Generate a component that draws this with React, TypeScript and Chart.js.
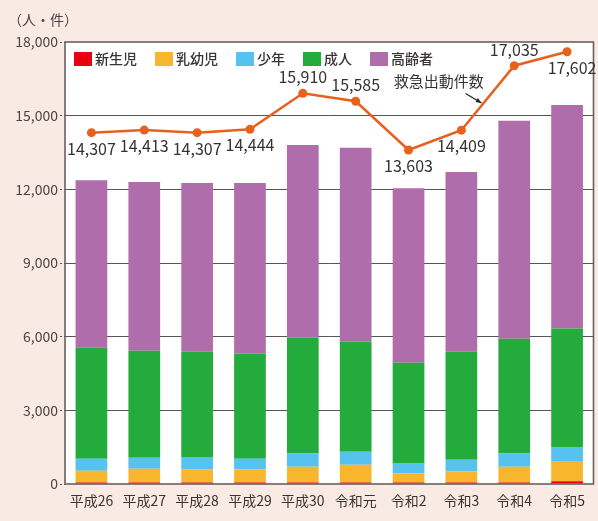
import React, { useEffect, useRef } from "react";
import { Chart, registerables } from "chart.js";

Chart.register(...registerables);

const categories = ["平成26", "平成27", "平成28", "平成29", "平成30", "令和元", "令和2", "令和3", "令和4", "令和5"];
const newborn = [60, 60, 60, 60, 60, 60, 60, 60, 60, 110];
const infants = [480, 560, 530, 530, 640, 720, 370, 450, 640, 800];
const youth = [490, 450, 510, 440, 540, 530, 430, 480, 540, 600];
const adults = [4520, 4360, 4290, 4280, 4720, 4490, 4080, 4400, 4680, 4820];
const elderly = [6820, 6870, 6870, 6950, 7850, 7890, 7100, 7320, 8870, 9100];
const dispatches = [14307, 14413, 14307, 14444, 15910, 15585, 13603, 14409, 17035, 17602];
const yTicks = [0, 3000, 6000, 9000, 12000, 15000, 18000];
const labelSide = [1, 1, 1, 1, -1, -1, 1, 1, -1, 1];

const seriesNames = ["新生児", "乳幼児", "少年", "成人", "高齢者"];
const seriesColors = ["#e60012", "#f8b62d", "#55c2f0", "#23ab3b", "#b06dab"];
const lineName = "救急出動件数";
const unitLabel = "（人・件）";

const FONT = '"Noto Sans CJK JP", "Noto Sans", sans-serif';
const BG = "#f9ebe4";

export default function App() {
  const ref = useRef<HTMLCanvasElement | null>(null);

  useEffect(() => {
    document.body.style.margin = "0";
    const canvas = ref.current;
    if (!canvas) return;

    const decor = {
      id: "decor",
      beforeDraw(chart: any) {
        const { ctx, chartArea: a, width, height } = chart;
        ctx.save();
        ctx.fillStyle = BG;
        ctx.fillRect(0, 0, width, height);
        ctx.fillStyle = "#ffffff";
        ctx.fillRect(a.left, a.top, a.right - a.left, a.bottom - a.top);
        ctx.restore();
      },
      afterDraw(chart: any) {
        const { ctx, chartArea: a, scales } = chart;
        ctx.save();
        // frame
        ctx.strokeStyle = "#6b5f5f";
        ctx.lineWidth = 1.6;
        ctx.strokeRect(a.left, a.top, a.right - a.left, a.bottom - a.top);

        // unit label
        ctx.fillStyle = "#4d4343";
        ctx.font = `14px ${FONT}`;
        ctx.textAlign = "left";
        ctx.textBaseline = "middle";
        ctx.fillText(unitLabel, 8, 20);

        // legend
        let x = a.left + 9;
        const ly = a.top + 9;
        ctx.font = `500 14px ${FONT}`;
        seriesNames.forEach((name, i) => {
          ctx.fillStyle = seriesColors[i];
          ctx.fillRect(x, ly + 1, 18, 14);
          ctx.fillStyle = "#3a3333";
          ctx.textBaseline = "middle";
          ctx.fillText(name, x + 21, ly + 8);
          x += 21 + ctx.measureText(name).width + 18;
        });

        // line labels
        const meta = chart.getDatasetMeta(5);
        ctx.font = `16px ${FONT}`;
        ctx.fillStyle = "#333";
        ctx.textAlign = "center";
        meta.data.forEach((pt: any, i: number) => {
          const txt = dispatches[i].toLocaleString("en-US");
          const dy = labelSide[i] * 16;
          ctx.fillText(txt, pt.x + (i === 9 ? 5 : 0), pt.y + dy);
        });

        // annotation
        const xs = scales.x;
        const ys = scales.y;
        ctx.font = `15px ${FONT}`;
        ctx.fillStyle = "#333";
        ctx.textAlign = "center";
        ctx.fillText(lineName, xs.getPixelForValue(6.57), ys.getPixelForValue(16400));
        const x1 = xs.getPixelForValue(7.08);
        const y1 = ys.getPixelForValue(15900);
        const x2 = xs.getPixelForValue(7.38);
        const y2 = ys.getPixelForValue(15520);
        ctx.strokeStyle = "#222";
        ctx.lineWidth = 1.2;
        ctx.beginPath();
        ctx.moveTo(x1, y1);
        ctx.lineTo(x2, y2);
        ctx.stroke();
        const ang = Math.atan2(y2 - y1, x2 - x1);
        ctx.fillStyle = "#222";
        ctx.beginPath();
        ctx.moveTo(x2, y2);
        ctx.lineTo(x2 - 6 * Math.cos(ang - 0.4), y2 - 6 * Math.sin(ang - 0.4));
        ctx.lineTo(x2 - 6 * Math.cos(ang + 0.4), y2 - 6 * Math.sin(ang + 0.4));
        ctx.closePath();
        ctx.fill();
        ctx.restore();
      },
    };

    const barSets = [newborn, infants, youth, adults, elderly].map((d, i) => ({
      type: "bar" as const,
      label: seriesNames[i],
      data: d,
      backgroundColor: seriesColors[i],
      borderWidth: 0,
      stack: "bars",
      order: 2,
      barPercentage: 0.6,
      categoryPercentage: 1,
    }));

    const chart = new Chart(canvas, {
      type: "bar",
      data: {
        labels: categories,
        datasets: [
          ...barSets,
          {
            type: "line" as const,
            label: lineName,
            data: dispatches,
            borderColor: "#e8601c",
            backgroundColor: "#e8601c",
            borderWidth: 2.5,
            pointRadius: 4.5,
            pointBackgroundColor: "#e8601c",
            pointBorderWidth: 0,
            stack: "line",
            order: 0,
          } as any,
        ],
      },
      options: {
        animation: false,
        responsive: true,
        maintainAspectRatio: false,
        layout: { padding: { top: 42, right: 3, left: 0, bottom: 0 } },
        plugins: { legend: { display: false }, tooltip: { enabled: false } },
        scales: {
          x: {
            stacked: true,
            grid: { display: false },
            border: { display: false },
            ticks: { color: "#3a3333", font: { family: FONT, size: 14 }, padding: 0 },
            afterFit: (s: any) => {
              s.height = 37;
            },
          },
          y: {
            stacked: true,
            min: 0,
            max: 18000,
            afterBuildTicks: (s: any) => {
              s.ticks = yTicks.map((v) => ({ value: v }));
            },
            grid: {
              color: (c: any) => (c.tick && (c.tick.value === 0 || c.tick.value === 18000) ? "rgba(0,0,0,0)" : "#555"),
              lineWidth: 1,
              tickLength: 5,
              tickColor: "#555",
              tickBorderDash: [2, 2],
              borderDash: [3, 3],
            } as any,
            border: { display: false },
            ticks: {
              color: "#4d4343",
              font: { family: FONT, size: 14 },
              padding: 2,
              callback: (v: any) => Number(v).toLocaleString("en-US"),
            },
            afterFit: (s: any) => {
              s.width = 65;
            },
          },
        },
      },
      plugins: [decor],
    });

    return () => chart.destroy();
  }, []);

  return (
    <div style={{ width: 598, height: 521, position: "relative", background: BG }}>
      <canvas ref={ref} />
    </div>
  );
}
